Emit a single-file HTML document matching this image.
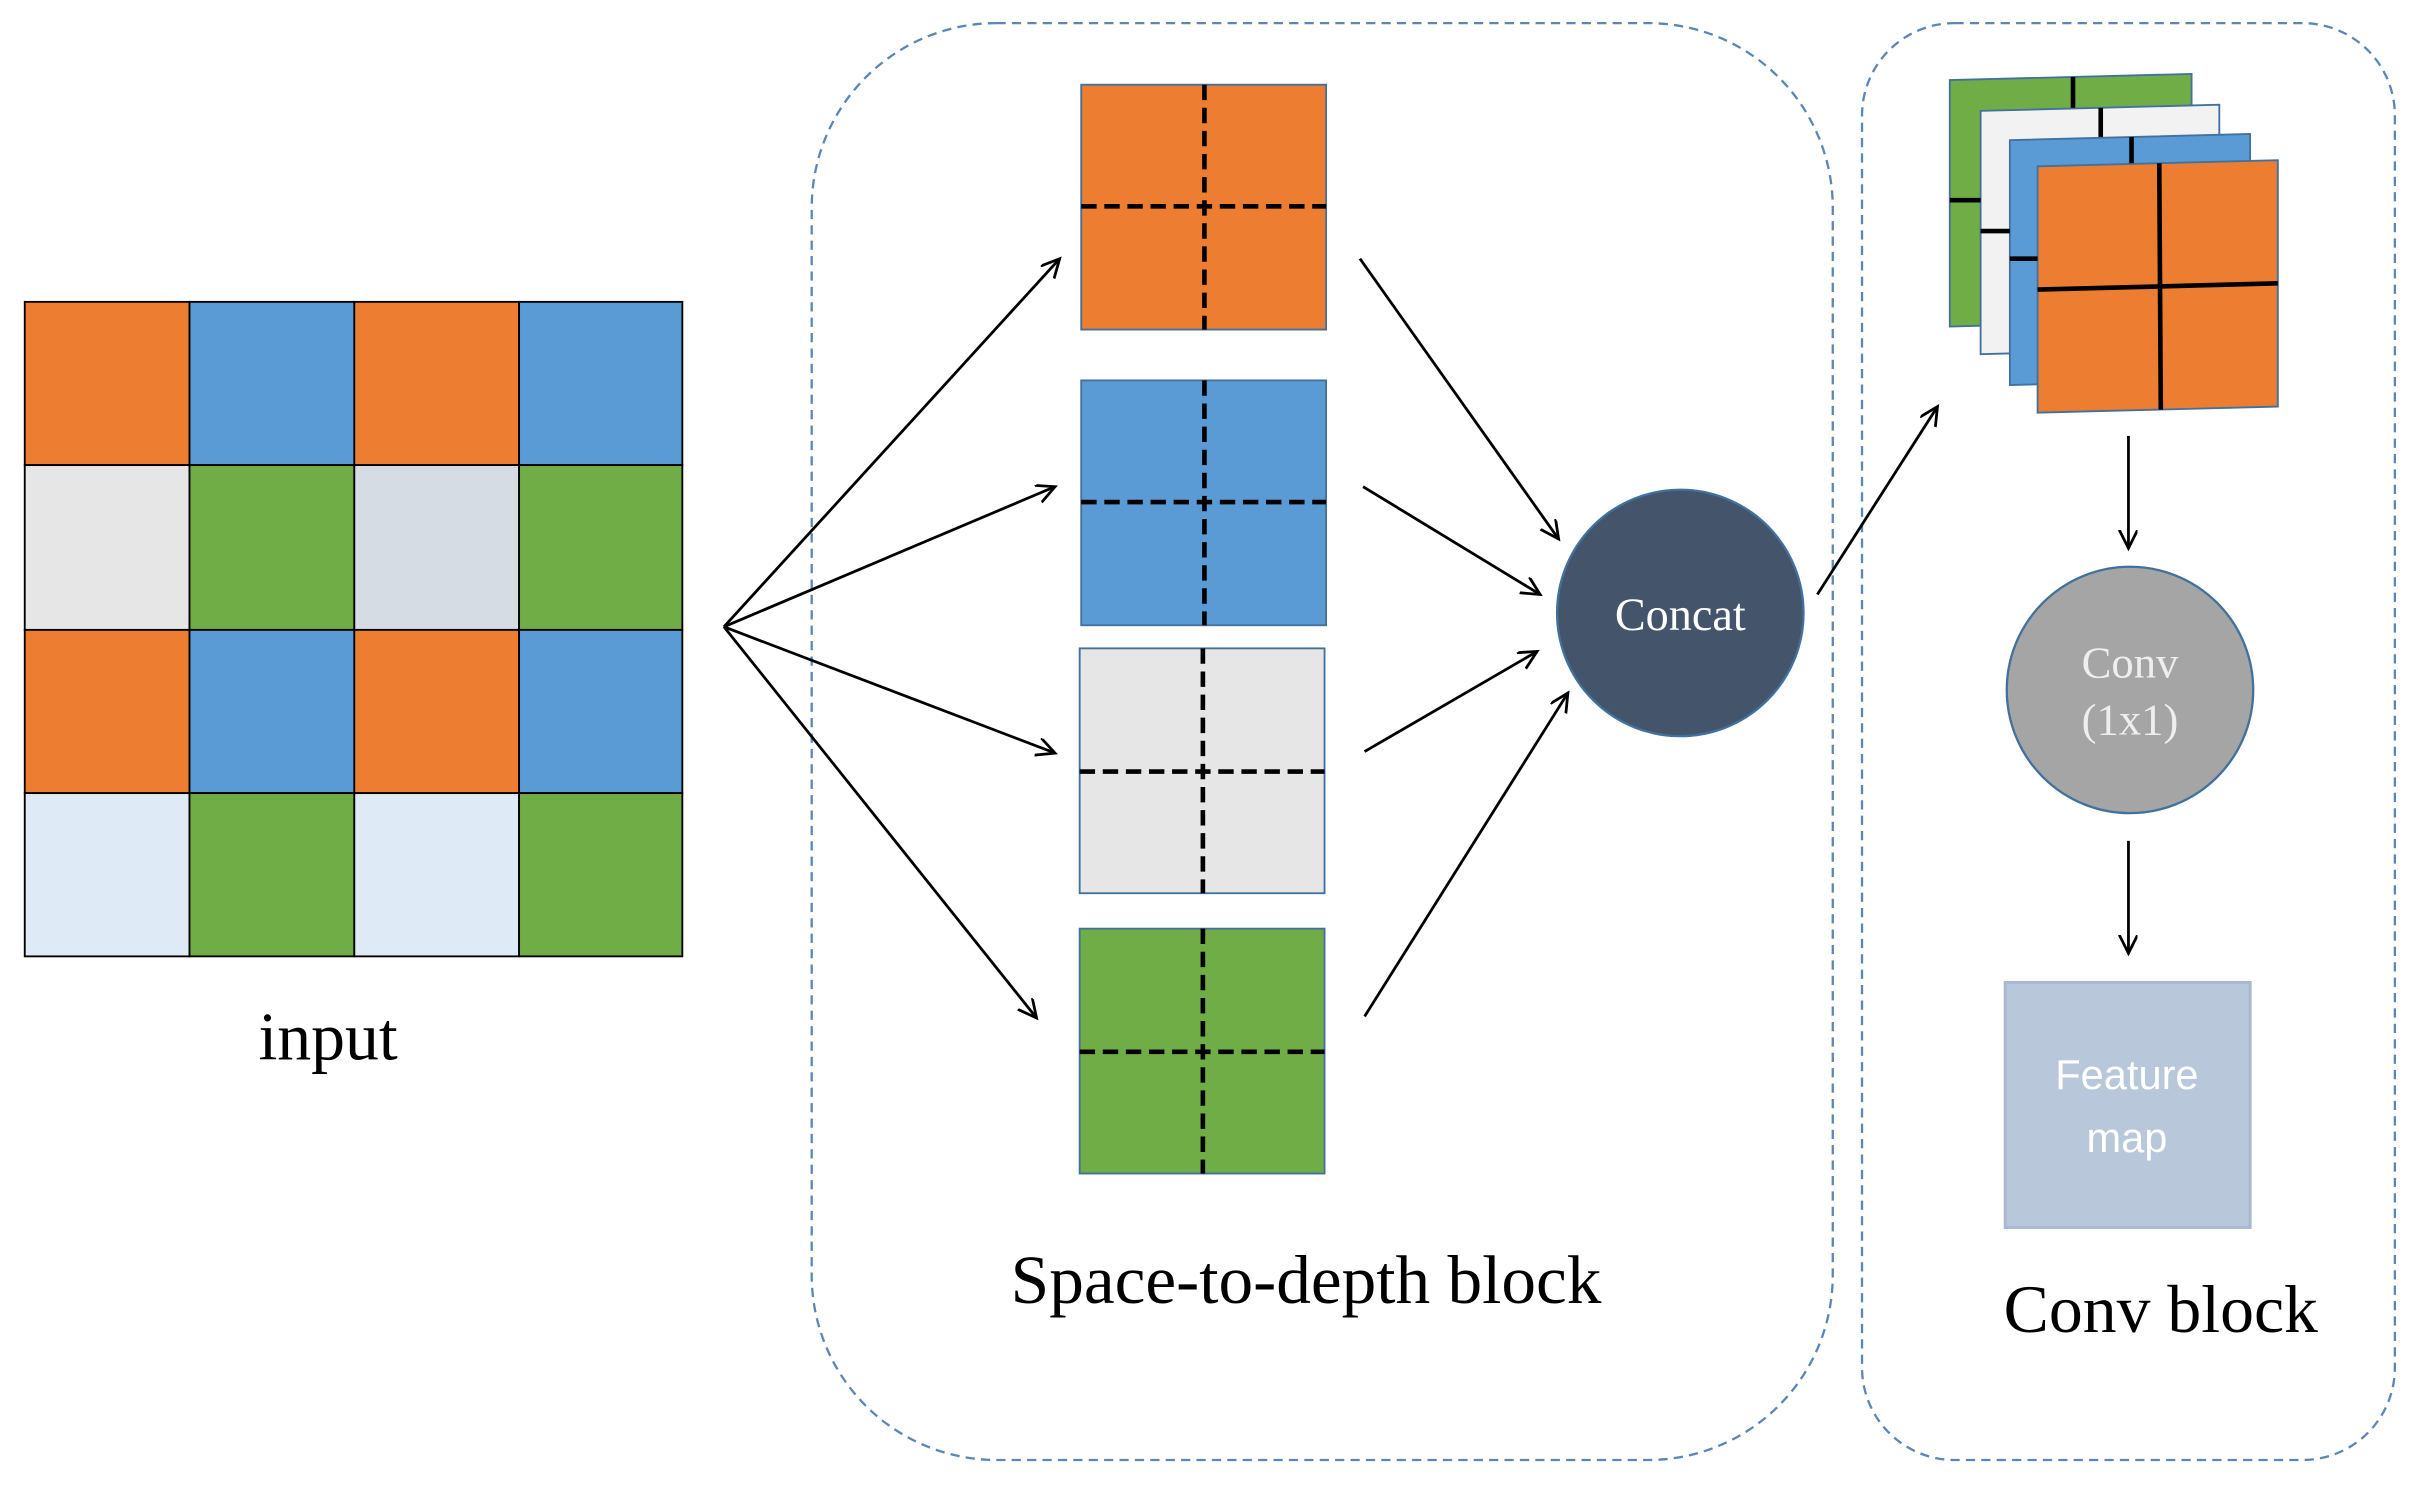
<!DOCTYPE html>
<html><head><meta charset="utf-8"><style>html,body{margin:0;padding:0;background:#fff}svg{display:block}</style></head>
<body>
<svg width="2415" height="1490" viewBox="0 0 1568 967.5" xmlns="http://www.w3.org/2000/svg">
<defs>
<marker id="a" markerWidth="14" markerHeight="14" refX="12" refY="6" orient="auto" markerUnits="userSpaceOnUse">
<path d="M0,0 L12,6 L0,12" fill="none" stroke="#000" stroke-width="1.8"/>
</marker>
</defs>
<rect width="1568" height="967.5" fill="#fff"/>
<g stroke="#000" stroke-width="1.2">
<rect x="16" y="196" width="107" height="106" fill="#ed7d31"/>
<rect x="123" y="196" width="107" height="106" fill="#5b9bd5"/>
<rect x="230" y="196" width="107" height="106" fill="#ed7d31"/>
<rect x="337" y="196" width="106" height="106" fill="#5b9bd5"/>
<rect x="16" y="302" width="107" height="107" fill="#e7e6e6"/>
<rect x="123" y="302" width="107" height="107" fill="#70ad47"/>
<rect x="230" y="302" width="107" height="107" fill="#d6dce4"/>
<rect x="337" y="302" width="106" height="107" fill="#70ad47"/>
<rect x="16" y="409" width="107" height="106" fill="#ed7d31"/>
<rect x="123" y="409" width="107" height="106" fill="#5b9bd5"/>
<rect x="230" y="409" width="107" height="106" fill="#ed7d31"/>
<rect x="337" y="409" width="106" height="106" fill="#5b9bd5"/>
<rect x="16" y="515" width="107" height="106" fill="#deebf7"/>
<rect x="123" y="515" width="107" height="106" fill="#70ad47"/>
<rect x="230" y="515" width="107" height="106" fill="#deebf7"/>
<rect x="337" y="515" width="106" height="106" fill="#70ad47"/>
</g>
<text x="213" y="688" font-family="Liberation Serif, serif" font-size="44" text-anchor="middle">input</text>
<rect x="527" y="15" width="663" height="933" rx="120" fill="none" stroke="#5b87b8" stroke-width="1.5" stroke-dasharray="6,4"/>
<rect x="1209" y="15" width="346" height="933" rx="60" fill="none" stroke="#5b87b8" stroke-width="1.5" stroke-dasharray="6,4"/>
<g stroke="#41719c" stroke-width="1.2">
<rect x="702" y="55" width="159" height="159" fill="#ed7d31"/>
<rect x="702" y="247" width="159" height="159" fill="#5b9bd5"/>
<rect x="701" y="421" width="159" height="159" fill="#e7e6e6"/>
<rect x="701" y="603" width="159" height="159" fill="#70ad47"/>
</g>
<g stroke="#000" stroke-width="3" stroke-dasharray="10,5">
<line x1="782" y1="55" x2="782" y2="214"/><line x1="702" y1="134" x2="861" y2="134"/>
<line x1="782" y1="247" x2="782" y2="406"/><line x1="702" y1="326" x2="861" y2="326"/>
<line x1="781" y1="421" x2="781" y2="580"/><line x1="701" y1="501" x2="860" y2="501"/>
<line x1="781" y1="603" x2="781" y2="762"/><line x1="701" y1="683" x2="860" y2="683"/>
</g>
<g stroke="#000" stroke-width="1.8" marker-end="url(#a)">
<line x1="470" y1="407" x2="688" y2="168"/>
<line x1="470" y1="407" x2="685" y2="316"/>
<line x1="470" y1="407" x2="685" y2="489"/>
<line x1="470" y1="407" x2="673" y2="661"/>
<line x1="883" y1="168" x2="1012" y2="350"/>
<line x1="885" y1="316" x2="1000" y2="386"/>
<line x1="886" y1="488" x2="998" y2="423"/>
<line x1="886" y1="660" x2="1018" y2="450"/>
<line x1="1180" y1="386" x2="1258" y2="264"/>
<line x1="1382" y1="283" x2="1382" y2="356"/>
<line x1="1382" y1="546" x2="1382" y2="619"/>
</g>
<circle cx="1091" cy="398" r="80" fill="#44546a" stroke="#41719c" stroke-width="1.5"/>
<text x="1091" y="409" font-family="Liberation Serif, serif" font-size="30" fill="#fff" text-anchor="middle">Concat</text>
<g stroke="#41719c" stroke-width="1.2">
<polygon points="1266,52 1423,48 1423,208 1266,212" fill="#70ad47"/>
<polygon points="1286,72 1441,68 1441,226 1286,230" fill="#f2f2f2"/>
<polygon points="1305,91 1461,87 1461,246 1305,250" fill="#5b9bd5"/>
<polygon points="1323,108 1479,104 1479,264 1323,268" fill="#ed7d31"/>
</g>
<g stroke="#000" stroke-width="3">
<line x1="1346" y1="50" x2="1346" y2="70"/><line x1="1266" y1="130" x2="1286" y2="130"/>
<line x1="1364" y1="70" x2="1364" y2="89"/><line x1="1286" y1="150" x2="1305" y2="150"/>
<line x1="1384" y1="89" x2="1384" y2="106"/><line x1="1305" y1="168" x2="1323" y2="168"/>
<line x1="1402" y1="106" x2="1403" y2="266"/><line x1="1323" y1="188" x2="1479" y2="184"/>
</g>
<circle cx="1383" cy="448" r="80" fill="#a5a5a5" stroke="#41719c" stroke-width="1.5"/>
<text x="1383" y="440" font-family="Liberation Serif, serif" font-size="29" fill="#eee" text-anchor="middle">Conv</text>
<text x="1383" y="477" font-family="Liberation Serif, serif" font-size="29" fill="#eee" text-anchor="middle">(1x1)</text>
<rect x="1302" y="638" width="159" height="159" fill="#b9c7db" stroke="#a9b9d0" stroke-width="2"/>
<text x="1381" y="707" font-family="Liberation Sans, sans-serif" font-size="27" fill="#fff" text-anchor="middle">Feature</text>
<text x="1381" y="748" font-family="Liberation Sans, sans-serif" font-size="27" fill="#fff" text-anchor="middle">map</text>
<text x="848" y="846" font-family="Liberation Serif, serif" font-size="45" text-anchor="middle">Space-to-depth block</text>
<text x="1403" y="865" font-family="Liberation Serif, serif" font-size="44" text-anchor="middle">Conv block</text>
</svg>
</body></html>
